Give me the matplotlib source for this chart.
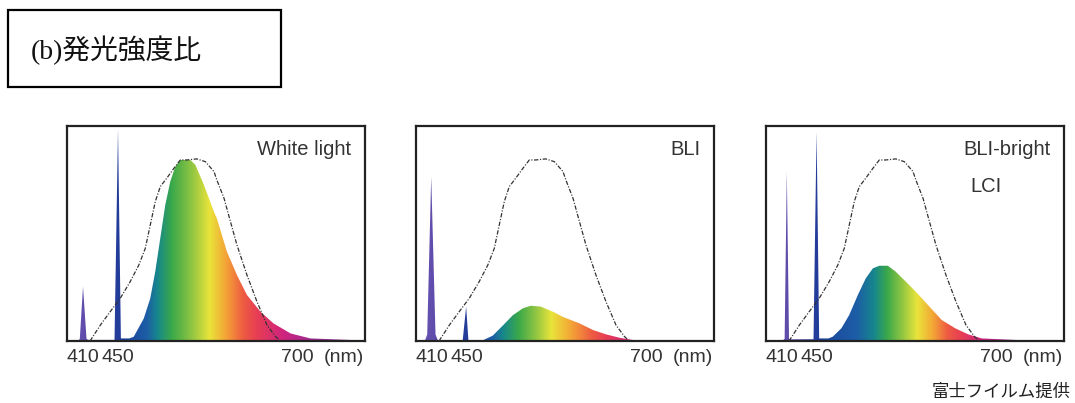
import numpy as np
import matplotlib
matplotlib.use('Agg')
import matplotlib.pyplot as plt
from matplotlib.patches import Rectangle
from matplotlib.colors import to_rgb

# spectra: wavelength (nm) / relative intensity
wl_white = [390, 404, 406, 410, 414, 416, 446, 450, 454, 466, 472, 486, 495, 502, 509, 516, 523, 530,
            537, 551, 558, 570, 584, 588, 602, 616, 630, 649, 667, 691, 719, 776, 797]
int_white = [0.0, 0.0, 0.01, 0.253, 0.01, 0.005, 0.005, 0.986, 0.012, 0.012, 0.02, 0.105, 0.198, 0.323,
             0.478, 0.633, 0.742, 0.811, 0.842, 0.842, 0.819, 0.726, 0.60, 0.57, 0.416, 0.307, 0.214,
             0.136, 0.082, 0.035, 0.012, 0.005, 0.0]

wl_bli = [390, 401, 404, 409, 414, 417, 445, 449, 452, 470, 472, 486, 500, 514, 528, 539, 553, 570,
          584, 607, 626, 644, 663, 681, 729, 797]
int_bli = [0.0, 0.0, 0.03, 0.764, 0.03, 0.0, 0.0, 0.16, 0.0, 0.0, 0.003, 0.025, 0.072, 0.12, 0.152,
           0.164, 0.16, 0.136, 0.112, 0.082, 0.051, 0.031, 0.015, 0.005, 0.0, 0.0]

wl_bright = [390, 410, 413, 415.5, 418, 420, 446, 449.5, 453, 466, 472, 484, 495, 507, 518, 528, 537,
             549, 560, 574, 588, 605, 624, 643, 661, 680, 727, 797]
int_bright = [0.0, 0.0, 0.01, 0.788, 0.01, 0.008, 0.008, 0.974, 0.012, 0.012, 0.02, 0.059, 0.121, 0.214,
              0.291, 0.338, 0.35, 0.35, 0.322, 0.276, 0.229, 0.167, 0.098, 0.059, 0.031, 0.012, 0.005, 0.0]

# dash-dot sensitivity curve (same in all panels)
wl_eye = [418, 430, 441, 453, 467, 479, 488, 495, 502, 509, 518, 528, 537, 546, 560, 572, 584, 588,
          598, 607, 616, 630, 644, 658, 670, 677]
eye = [0.0, 0.075, 0.136, 0.198, 0.276, 0.353, 0.43, 0.539, 0.648, 0.718, 0.757, 0.803, 0.842, 0.842,
       0.847, 0.834, 0.788, 0.749, 0.664, 0.555, 0.447, 0.307, 0.183, 0.074, 0.02, 0.0]

names = ['White light', 'BLI', 'BLI-bright']
tick_nm = [410, 450, 700]
tick_labels = ['410', '450', '700']

# rainbow colours and where they sit (nm) in each panel
spec_colors = ['#6a55b2', '#5b49a8', '#2c3d9c', '#1f3c9a', '#1c4c9f', '#1d5da6', '#17878c', '#3aa84a',
               '#8cc443', '#e9e43a', '#f3a636', '#ee5b42', '#e63d55', '#d0247e', '#a02a90', '#8a4aa0']
stops_white = [395, 420, 440, 455, 470, 490, 505, 525, 552, 578, 600, 625, 645, 680, 720, 800]
stops_bli = [395, 420, 440, 455, 470, 485, 500, 522, 545, 568, 595, 625, 645, 678, 720, 800]
stops_bright = [395, 425, 440, 455, 470, 505, 530, 548, 568, 590, 612, 632, 652, 680, 720, 800]

# the drawing's wavelength axis is not to scale: piecewise scale
NM_ANCH = [0, 390, 410, 450, 700, 2000]
POS_ANCH = [-312, 0, 16, 51, 230, 1140]

def fwd(x):
    return np.interp(x, NM_ANCH, POS_ANCH)

def inv(p):
    return np.interp(p, POS_ANCH, NM_ANCH)

XMIN, XMAX = 390, 797

fig = plt.figure(figsize=(10.75, 4.03), dpi=100)

# title box
fig.patches.append(Rectangle((8 / 1075, 1 - 87 / 403), 273 / 1075, 77 / 403, transform=fig.transFigure,
                             fill=False, edgecolor='black', linewidth=1.6))
fig.text(31 / 1075, 1 - 50 / 403, '(b)発光強度比', family=['Liberation Serif', 'Noto Sans CJK JP'],
         fontsize=20, va='center', ha='left', color='#111')

lefts = [67, 416, 766]
spectra = [(wl_white, int_white, stops_white), (wl_bli, int_bli, stops_bli), (wl_bright, int_bright, stops_bright)]

rgb = np.array([to_rgb(c) for c in spec_colors])
N = 900
frac = (np.arange(N) + 0.5) / N
nm_cols = inv(fwd(XMIN) + frac * (fwd(XMAX) - fwd(XMIN)))

for i in range(3):
    ax = fig.add_axes([lefts[i] / 1075, 62 / 403, 298 / 1075, 215 / 403])
    ax.set_xscale('function', functions=(fwd, inv))
    wl, inten, stops = spectra[i]

    img = np.zeros((1, N, 3))
    for k in range(3):
        img[0, :, k] = np.interp(nm_cols, stops, rgb[:, k])
    poly = ax.fill(wl, inten, facecolor='none', edgecolor='none', zorder=1)[0]
    im = ax.imshow(img, extent=(0, 1, 0, 1), transform=ax.transAxes, aspect='auto',
                   interpolation='bilinear', zorder=2)
    im.set_clip_path(poly)

    ax.plot(wl_eye, eye, color='#333', lw=0.9, linestyle=(0, (3.5, 1.3, 0.9, 1.3)), zorder=3)

    ax.set_xlim(XMIN, XMAX)
    ax.set_ylim(0, 1)
    ax.set_yticks([])
    ax.set_xticks(tick_nm, tick_labels, family='Liberation Sans')
    ax.tick_params(axis='x', length=0, pad=6, labelsize=14, labelcolor='#333')
    for s in ax.spines.values():
        s.set_linewidth(1.6)
        s.set_color('#222')
    ax.text(0.93, -0.075, '(nm)', transform=ax.transAxes, ha='center', va='center',
            fontsize=14, color='#333', family='Liberation Sans')
    ax.text(0.955, 0.89, names[i], transform=ax.transAxes, ha='right', va='center',
            fontsize=14.5, color='#333', family='Liberation Sans')
    if i == 2:
        ax.text(0.685, 0.718, 'LCI', transform=ax.transAxes, ha='left', va='center',
                fontsize=14.5, color='#333', family='Liberation Sans')

fig.text(1071 / 1075, 1 - 392 / 403, '富士フイルム提供', family=['Noto Sans CJK JP'], fontsize=12.5,
         ha='right', va='center', color='#222')

plt.savefig('out.png', dpi=100)
